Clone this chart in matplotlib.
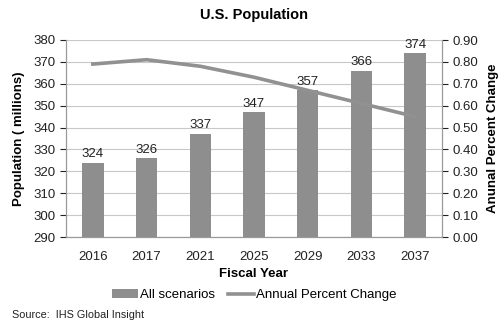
import numpy as np
import matplotlib.pyplot as plt

plt.rcParams['font.family'] = ['Liberation Sans', 'DejaVu Sans']

years = ['2016', '2017', '2021', '2025', '2029', '2033', '2037']
population = [324, 326, 337, 347, 357, 366, 374]
pct_change = [0.79, 0.81, 0.78, 0.73, 0.67, 0.61, 0.55]

BAR_COLOR = '#8e8e8e'
LINE_COLOR = '#919191'

fig = plt.figure(figsize=(5.02, 3.24), dpi=100)
ax = fig.add_axes([66 / 502, 1 - 237 / 324, (442 - 66) / 502, (237 - 40) / 324])
ax2 = ax.twinx()

x = np.arange(len(years))
bars = ax.bar(x, population, width=0.4, color=BAR_COLOR, zorder=2, label='All scenarios')
for xi, v in zip(x, population):
    ax.text(xi, v + 1.2, str(v), ha='center', va='bottom', fontsize=9.5, color='#222222')

line, = ax2.plot(x, pct_change, color=LINE_COLOR, lw=2.6, zorder=3,
                 label='Annual Percent Change')

ax.set_ylim(290, 380)
ax.set_yticks(range(290, 381, 10))
ax.set_xlim(-0.5, len(years) - 0.5)
ax.set_xticks(x)
ax.set_xticklabels(years)
ax2.set_ylim(0, 0.9)
ax2.set_yticks(np.arange(0, 0.91, 0.1))
ax2.set_yticklabels([f'{v:.2f}' for v in np.arange(0, 0.91, 0.1)])

ax.grid(axis='y', color='#c8c8c8', lw=0.8, zorder=0)
for a in (ax, ax2):
    a.spines['top'].set_visible(False)
    a.spines['left'].set_color('#999999')
    a.spines['right'].set_color('#999999')
    a.spines['bottom'].set_color('#999999')
    a.tick_params(labelsize=9.5, colors='#222222', length=4)
    for t in a.yaxis.get_ticklines():
        t.set_color('#999999')
ax.tick_params(axis='x', length=0, pad=10)

ax.set_xlabel('Fiscal Year', fontsize=9.5, fontweight='bold', labelpad=4)
ax.set_ylabel('Population ( millions)', fontsize=9.5, fontweight='bold', labelpad=6)
ax2.set_ylabel('Anunal Percent Change', fontsize=9.5, fontweight='bold', labelpad=6)

ax.set_title('U.S. Population', fontsize=10.5, fontweight='bold', pad=15)

fig.legend([bars, line], ['All scenarios', 'Annual Percent Change'],
           loc='center', bbox_to_anchor=(254 / 502, 1 - 295 / 324), ncol=2,
           frameon=False, fontsize=9.5, handlelength=2.0, handleheight=0.6,
           handletextpad=0.1, columnspacing=1.0)

fig.text(12 / 502, 1 - 315 / 324, 'Source:  IHS Global Insight', fontsize=7.8,
         va='center', color='#222222')

fig.savefig('out.png', dpi=100)
